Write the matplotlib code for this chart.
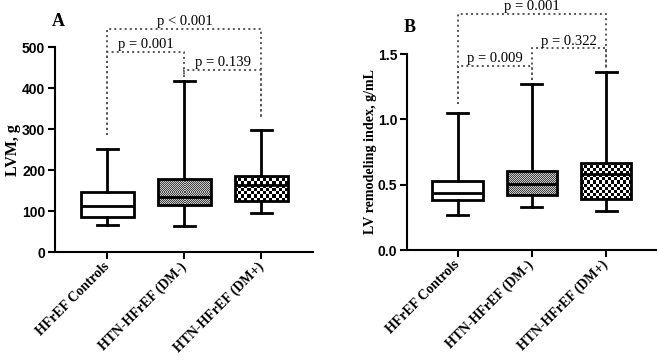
import numpy as np
import matplotlib
matplotlib.use('Agg')
from matplotlib import pyplot as plt

groups = ['HFrEF Controls', 'HTN-HFrEF (DM-)', 'HTN-HFrEF (DM+)']

# panel A: LVM, g  (min, q1, median, q3, max)
lvm_min = [67, 64, 95]
lvm_q1 = [85, 116, 124]
lvm_med = [114, 136, 164]
lvm_q3 = [148, 178, 185]
lvm_max = [251, 417, 298]

# panel B: LV remodeling index, g/mL
lvri_min = [0.268, 0.327, 0.298]
lvri_q1 = [0.383, 0.421, 0.39]
lvri_med = [0.439, 0.503, 0.58]
lvri_q3 = [0.528, 0.605, 0.668]
lvri_max = [1.05, 1.27, 1.365]

# brackets: (left group, right group, bar height, left foot, right foot, label)
brk_a = [(0, 2, 544, 286, 327, 'p < 0.001'),
         (0, 1, 488, 286, 432, 'p = 0.001'),
         (1, 2, 445, 427, 327, 'p = 0.139')]
brk_b = [(0, 2, 1.806, 1.12, 1.40, 'p = 0.001'),
         (0, 1, 1.408, 1.12, 1.30, 'p = 0.009'),
         (1, 2, 1.543, 1.30, 1.39, 'p = 0.322')]

# checker cell size in px and its two grey levels, 0 = plain white box
cells = [(0, 0, 0), (1, 0.25, 0.8), (3, 0.0, 1.0)]

serif = 'Liberation Serif'
sans = 'Liberation Sans'

fig = plt.figure(figsize=(6.6, 3.64), dpi=100)
axA = fig.add_axes([55/660, 1-252.3/364, 258/660, 205/364])
axB = fig.add_axes([407/660, 1-250/364, 249/660, 196/364])


def checker(ax, patch, x0, x1, y0, y1, c, lo, hi):
    t = ax.transData
    p0 = t.transform((x0, y0))
    p1 = t.transform((x1, y1))
    nx = max(1, int(round(abs(p1[0]-p0[0])/c)))
    ny = max(1, int(round(abs(p1[1]-p0[1])/c)))
    yy, xx = np.mgrid[0:ny, 0:nx]
    img = np.where((xx + yy) % 2, hi, lo)
    im = ax.imshow(img, cmap='gray', vmin=0, vmax=1, extent=(x0, x1, y0, y1),
                   interpolation='nearest', aspect='auto', zorder=1.5)
    im.set_clip_path(patch)


def panel(ax, mn, q1, med, q3, mx, brk, ylim, yticks, yfmt, ylabel, ylsize,
          letter, labx):
    stats = []
    for i in range(3):
        stats.append(dict(whislo=mn[i], q1=q1[i], med=med[i], q3=q3[i],
                          whishi=mx[i], fliers=[]))
    ax.set_xlim(-0.68, 2.67)
    ax.set_ylim(*ylim)
    res = ax.bxp(stats, positions=range(3), widths=0.68, patch_artist=True,
                 capwidths=0.28, showfliers=False,
                 boxprops=dict(facecolor='none', edgecolor='black', linewidth=2, zorder=2),
                 medianprops=dict(color='black', linewidth=2, zorder=2.1),
                 whiskerprops=dict(color='black', linewidth=2),
                 capprops=dict(color='black', linewidth=2))
    for i, b in enumerate(res['boxes']):
        c, lo, hi = cells[i]
        if c > 0:
            checker(ax, b, i-0.34, i+0.34, q1[i], q3[i], c, lo, hi)
        else:
            b.set_facecolor('white')
    for l, r, h, fl, fr, lab in brk:
        ax.plot([l, l, r, r], [fl, h, h, fr], ls=':', color='#555555', lw=1.4,
                clip_on=False, zorder=3)
        ax.text((l+r)/2, h + (ylim[1]-ylim[0])*0.004, lab, ha='center', va='bottom',
                fontsize=10.5, family=serif, clip_on=False)
    for s in ['top', 'right']:
        ax.spines[s].set_visible(False)
    for s in ['left', 'bottom']:
        ax.spines[s].set_linewidth(1.5)
    ax.set_yticks(yticks)
    ax.set_yticklabels([yfmt % v for v in yticks], fontsize=10, family=sans,
                       fontweight='bold')
    ax.set_xticks(range(3))
    ax.set_xticklabels(groups, rotation=45, ha='right', va='center',
                       rotation_mode='anchor', fontsize=10, family=serif,
                       fontweight='bold')
    ax.tick_params(length=5, width=1.5, pad=2)
    ax.tick_params(axis='x', pad=4)
    ax.set_ylabel(ylabel, fontsize=ylsize, family=serif, fontweight='bold')
    ax.yaxis.set_label_coords(labx, 0.5)
    ax.text(letter[0], letter[1], letter[2], transform=fig.transFigure,
            fontsize=13, family=serif, fontweight='bold', ha='center', va='center')


panel(axA, lvm_min, lvm_q1, lvm_med, lvm_q3, lvm_max, brk_a, (0, 500),
      [0, 100, 200, 300, 400, 500], '%d', 'LVM, g', 11.5,
      (58/660, 1-22/364, 'A'), -0.13)
panel(axB, lvri_min, lvri_q1, lvri_med, lvri_q3, lvri_max, brk_b, (0, 1.5),
      [0.0, 0.5, 1.0, 1.5], '%.1f', 'LV remodeling index, g/mL', 10.2,
      (410/660, 1-27/364, 'B'), -0.12)

fig.savefig('out.png', dpi=100)
